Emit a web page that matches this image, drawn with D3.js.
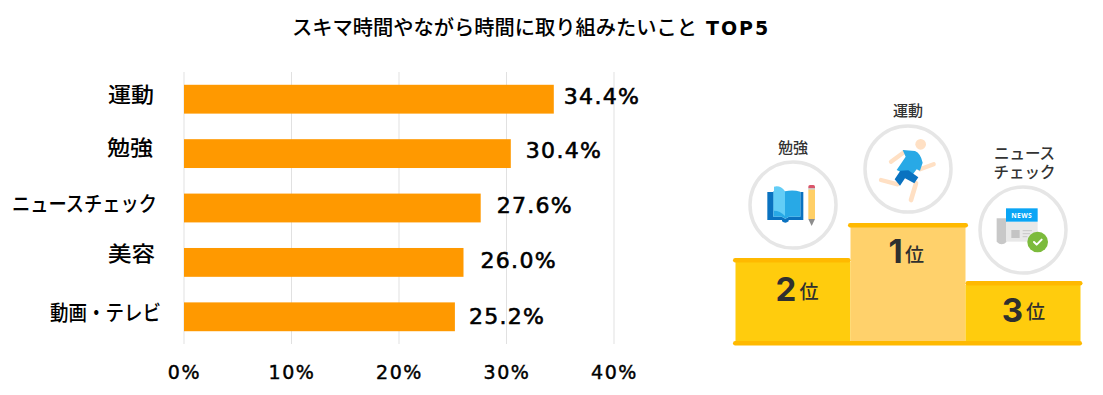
<!DOCTYPE html>
<html><head><meta charset="utf-8">
<script src="https://cdn.jsdelivr.net/npm/d3@7"></script>
<style>html,body{margin:0;padding:0;background:#fff}svg{display:block}</style></head>
<body><svg id="c" width="1103" height="395"></svg>
<script>
const titleJa = "スキマ時間やながら時間に取り組みたいこと";
const titleEn = "TOP5";
const categories = ["運動","勉強","ニュースチェック","美容","動画・テレビ"];
const values = [34.4,30.4,27.6,26.0,25.2];
const xTicks = [0,10,20,30,40];
const podiumRanks = [2,1,3];
const podiumNames = [["勉強"],["運動"],["ニュース","チェック"]];

const JP = "'Noto Sans CJK JP'";
const DV = "'DejaVu Sans'";
const svg = d3.select("#c");
svg.append("text").attr("x",292).attr("y",35)
  .attr("font-family",JP).attr("font-size",20.25).attr("font-weight",500).attr("fill","#000").text(titleJa);
svg.append("text").attr("x",706).attr("y",35).attr("font-family",DV).attr("font-size",19).attr("font-weight",700)
  .attr("letter-spacing",2).attr("fill","#000").text(titleEn);

const x = d3.scaleLinear().domain([0,40]).range([184,614]);
const y = d3.scaleBand().domain(categories).range([72,344]).paddingInner(0.47).paddingOuter(0.235);

svg.append("g").selectAll("line").data(xTicks).join("line")
  .attr("x1",d=>x(d)).attr("x2",d=>x(d)).attr("y1",72).attr("y2",344)
  .attr("stroke","#e1e1e1").attr("stroke-width",1);
svg.append("g").selectAll("rect").data(values).join("rect")
  .attr("x",x(0)).attr("y",(d,i)=>y(categories[i])).attr("width",d=>x(d)-x(0)).attr("height",y.bandwidth())
  .attr("fill","#ff9900");
const valOffset=[10,15,16,17,14], valShift=[-2.5,-3.5,-2.5,-1.5,-0.5];
svg.append("g").selectAll("text").data(values).join("text")
  .attr("x",(d,i)=>x(d)+valOffset[i]).attr("y",(d,i)=>y(categories[i])+y.bandwidth()/2+7.5+valShift[i])
  .attr("font-family",DV).attr("font-size",22).attr("letter-spacing",1.3).attr("fill","#000")
  .attr("stroke","#000").attr("stroke-width",0.6)
  .text(d=>d.toFixed(1)+"%");
const labelLeft=[108,107,12,108,50], labelW=[46,46,145,47,111], labelBase=[101.5,154.5,211,260.5,319.5];
svg.append("g").selectAll("text").data(categories).join("text")
  .attr("x",(d,i)=>labelLeft[i]).attr("y",(d,i)=>labelBase[i])
  .attr("textLength",(d,i)=>labelW[i]).attr("lengthAdjust","spacingAndGlyphs")
  .attr("font-family",JP).attr("font-size",21).attr("font-weight",500).attr("fill","#000").text(d=>d);
svg.append("g").selectAll("text").data(xTicks).join("text")
  .attr("x",d=>x(d)+0.5).attr("y",379).attr("text-anchor","middle")
  .attr("font-family",DV).attr("font-size",19).attr("letter-spacing",1.6).attr("fill","#000")
  .attr("stroke","#000").attr("stroke-width",0.45).text(d=>d+"%");

// podium
const pod = svg.append("g");
const bx = d3.scaleBand().domain(podiumRanks).range([735.5,1080.5]);
const tops = {1:227,2:262,3:285};
const fills = {1:"#ffd16b",2:"#ffcc0d",3:"#ffcc0d"};
pod.selectAll(".block").data(podiumRanks).join("rect").attr("class","block")
  .attr("x",d=>bx(d)).attr("width",bx.bandwidth()).attr("y",d=>tops[d]).attr("height",d=>342-tops[d]).attr("fill",d=>fills[d]);
pod.selectAll(".cap").data(podiumRanks).join("rect").attr("class","cap")
  .attr("x",d=>bx(d)-(d==1?2.5:d==2?2.5:0)).attr("y",d=>tops[d]-4)
  .attr("width",d=>bx.bandwidth()+(d==1?5:d==2?2.5:2))
  .attr("height",4.5).attr("rx",2.2).attr("fill","#ffb900");
pod.append("rect").attr("x",733).attr("y",341).attr("width",349).attr("height",4.5).attr("rx",2.2).attr("fill","#ffb900");

const rankY={1:263,2:301,3:322}, rankX={1:895.5,2:786,3:1012.5}, weiX={1:905,2:799.5,3:1026}, weiY={1:262,2:299,3:319};
pod.selectAll(".rn").data(podiumRanks).join("text").attr("class","rn")
  .attr("x",d=>rankX[d]).attr("y",d=>rankY[d]).attr("text-anchor","middle")
  .attr("font-family","Inter").attr("font-weight",700).attr("font-size",33).attr("fill","#2f2f2f").text(d=>d);
pod.selectAll(".wi").data(podiumRanks).join("text").attr("class","wi")
  .attr("x",d=>weiX[d]).attr("y",d=>weiY[d])
  .attr("font-family",JP).attr("font-weight",500).attr("font-size",19).attr("fill","#2f2f2f").text("位");

const centers={1:[908,169],2:[793,205],3:[1023,230]};
pod.selectAll(".ring").data(podiumRanks).join("circle").attr("class","ring")
  .attr("cx",d=>centers[d][0]).attr("cy",d=>centers[d][1]).attr("r",43).attr("fill","#fff").attr("stroke","#e6e6e6").attr("stroke-width",3.5);

podiumNames.forEach((lines,i)=>{
  const yy=[[153],[116],[158.5,177.5]][i], xx=[793,908,1024.5][i], fs=[15,15,15.5][i];
  lines.forEach((t,j)=>pod.append("text").attr("x",xx).attr("y",yy[j]).attr("text-anchor","middle")
    .attr("font-family",JP).attr("font-size",fs).attr("font-weight",500).attr("fill","#333").text(t));
});

// book + pencil (drawn in 3x zoom coordinates)
const bk = pod.append("g").attr("transform","translate(740,120) scale(0.3333)");
bk.append("path").attr("d","M82 216H100V290H125L136 296L147 290H181V216H190V300H146V304Q136 312 126 304V300H82Z").attr("fill","#0a72c0");
bk.append("path").attr("d","M100 214H135Q158 208 181 215V290H147L136 296L125 290H100Z").attr("fill","#28a9e6");
bk.append("path").attr("d","M102 200Q122 195 135 214V288Q120 272 102 272Z").attr("fill","#63cdf6");
bk.append("path").attr("d","M205 205V200Q205 195 210 195H220Q225 195 225 200V205Z").attr("fill","#d9556a");
bk.append("rect").attr("x",205).attr("y",205).attr("width",20).attr("height",4).attr("fill","#bbb");
bk.append("rect").attr("x",205).attr("y",209).attr("width",20).attr("height",88).attr("fill","#ffcf66");
bk.append("path").attr("d","M205 297H225L215 318Z").attr("fill","#8d8d8d");

// runner
const rn = pod.append("g").attr("transform","translate(855,120) scale(0.3333)");
const skin="#ffe0c4";
rn.append("circle").attr("cx",197).attr("cy",73).attr("r",16).attr("fill",skin);
[[147,97,108,125,13],[195,148,236,133,13],[128,193,78,180,13],[183,190,168,240,14]].forEach(a=>
  rn.append("line").attr("x1",a[0]).attr("y1",a[1]).attr("x2",a[2]).attr("y2",a[3]).attr("stroke",skin).attr("stroke-width",a[4]).attr("stroke-linecap","round"));
rn.append("path").attr("d","M143 90L180 93Q197 100 203 128L195 152L185 148L168 170L125 150L152 110Z").attr("fill","#28a9e6");
rn.append("path").attr("d","M136 152L160 151L190 172L178 190L150 175L135 197L119 178Z").attr("fill","#0a72c0");

// news
const nw = pod.append("g").attr("transform","translate(970,180) scale(0.3333)");
nw.append("path").attr("d","M80 115H110V185Q95 200 80 185Z").attr("fill","#c8c8c8");
nw.append("rect").attr("x",108).attr("y",125).attr("width",95).attr("height",60).attr("fill","#e8e8e8");
nw.append("rect").attr("x",108).attr("y",85).attr("width",95).attr("height",40).attr("fill","#0aa5f5");
nw.append("text").attr("x",155).attr("y",115).attr("text-anchor","middle").attr("font-family","'Noto Sans'").attr("font-weight",700).attr("font-size",20).attr("letter-spacing",1).attr("fill","#fff").text("NEWS");
nw.append("rect").attr("x",124).attr("y",150).attr("width",25).attr("height",24).attr("fill","#c4c4c4");
[[158,186,152],[158,180,161],[158,172,170]].forEach(a=>nw.append("line").attr("x1",a[0]).attr("x2",a[1]).attr("y1",a[2]).attr("y2",a[2]).attr("stroke","#c8c8c8").attr("stroke-width",3));
nw.append("circle").attr("cx",203).attr("cy",186).attr("r",31).attr("fill","#7cbb3c");
nw.append("path").attr("d","M192 186L200 194L215 179").attr("fill","none").attr("stroke","#fff").attr("stroke-width",6).attr("stroke-linecap","round").attr("stroke-linejoin","round");
</script></body></html>
